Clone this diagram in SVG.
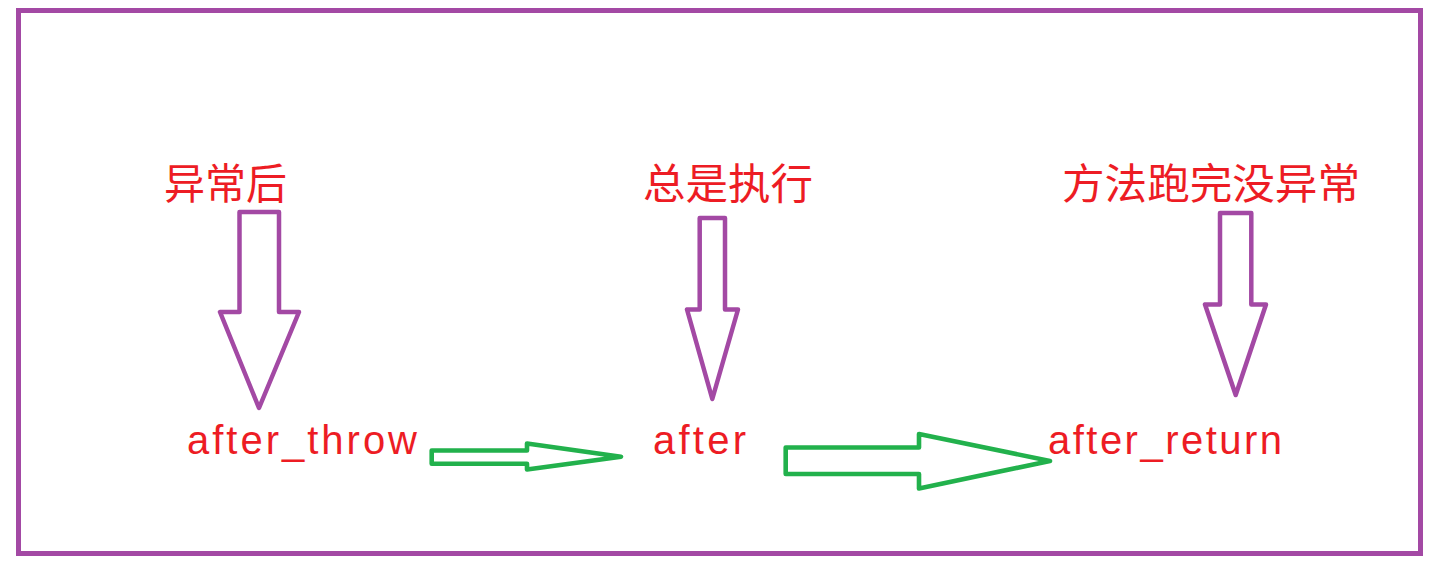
<svg xmlns="http://www.w3.org/2000/svg" width="1434" height="569" viewBox="0 0 1434 569">
<style>
.lbl{fill:#ed1c24;font-family:"Liberation Sans","Noto Sans CJK SC",sans-serif;font-size:40px}
.cjk{fill:#ed1c24;font-family:"Noto Sans CJK SC",sans-serif;font-size:42px}
.pa{fill:none;stroke:#a349a4;stroke-width:4.5;stroke-linejoin:round}
.ga{fill:none;stroke:#22b14c;stroke-width:4.6;stroke-linejoin:round}
</style>
<rect x="0" y="0" width="1434" height="569" fill="#ffffff"/>
<rect x="18.5" y="10.5" width="1402" height="543" fill="none" stroke="#a349a4" stroke-width="5"/>
<g id="node-throw-cond"><text class="cjk" x="164" y="199" textLength="123" lengthAdjust="spacingAndGlyphs">异常后</text></g>
<g id="node-always-cond"><text class="cjk" x="643" y="199" textLength="170" lengthAdjust="spacingAndGlyphs">总是执行</text></g>
<g id="node-return-cond"><text class="cjk" x="1062" y="199" textLength="298" lengthAdjust="spacingAndGlyphs">方法跑完没异常</text></g>
<g id="node-after-throw"><text class="lbl" x="187" y="454" textLength="230" lengthAdjust="spacing">after_throw</text></g>
<g id="node-after"><text class="lbl" x="653" y="454" textLength="93" lengthAdjust="spacing">after</text></g>
<g id="node-after-return"><text class="lbl" x="1048" y="454" textLength="234" lengthAdjust="spacing">after_return</text></g>
<g id="connectors">
<polygon class="pa" points="239.5,212 279,212 279,312 299,312 259,408 220,312 239.5,312"/>
<polygon class="pa" points="699.7,218 725,218 725,309.5 738,309.5 712.3,399 687,309.5 699.7,309.5"/>
<polygon class="pa" points="1220,213 1251.3,213 1251.3,304.5 1266,304.5 1235.7,395 1205,304.5 1220,304.5"/>
<polygon class="ga" points="431.7,450.5 527,450.5 527,443.5 621,456.7 527,469.5 527,463.8 431.7,463.8"/>
<polygon class="ga" points="785.7,447.5 919,447.5 919,434 1050,461 919,488.5 919,474 785.7,474"/>
</g>
</svg>
